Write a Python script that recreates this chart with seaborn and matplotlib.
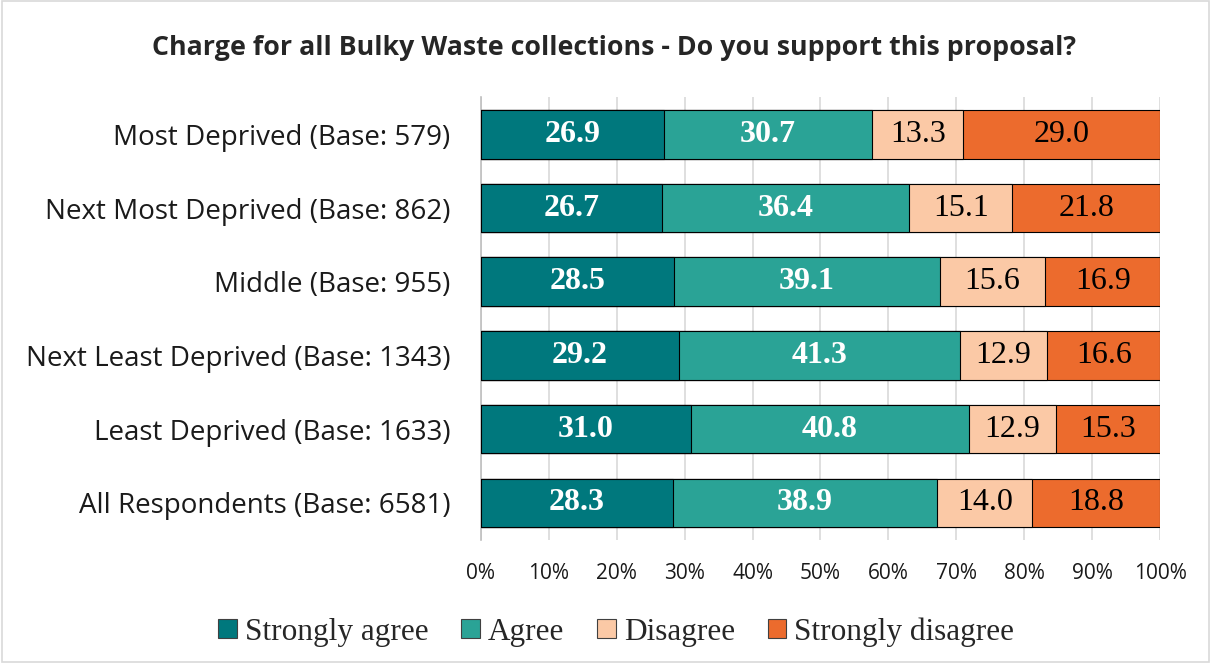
import matplotlib
matplotlib.use("Agg")
import matplotlib.pyplot as plt
import seaborn as sns
import pandas as pd
import numpy as np
from matplotlib.patches import Rectangle, Patch

categories = ["Most Deprived (Base: 579)", "Next Most Deprived (Base: 862)", "Middle (Base: 955)",
              "Next Least Deprived (Base: 1343)", "Least Deprived (Base: 1633)", "All Respondents (Base: 6581)"]
strongly_agree = [26.9, 26.7, 28.5, 29.2, 31.0, 28.3]
agree = [30.7, 36.4, 39.1, 41.3, 40.8, 38.9]
disagree = [13.3, 15.1, 15.6, 12.9, 12.9, 14.0]
strongly_disagree = [29.0, 21.8, 16.9, 16.6, 15.3, 18.8]
series_names = ["Strongly agree", "Agree", "Disagree", "Strongly disagree"]
colors = ["#00787D", "#2AA396", "#FBC9A6", "#EC6B2D"]
label_colors = ["white", "white", "black", "black"]
label_weights = ["bold", "bold", "normal", "normal"]

sns.set_theme(style="white")
plt.rcParams["font.family"] = ["Open Sans", "DejaVu Sans"]

series = [strongly_agree, agree, disagree, strongly_disagree]
vals = np.array(series)
cum = np.cumsum(vals, axis=0)
totals = cum[-1]
cum_pct = cum / totals * 100
starts = np.vstack([np.zeros(len(categories)), cum_pct[:-1]])

fig = plt.figure(figsize=(12.11, 6.63), dpi=100)
ax = fig.add_axes([0.397, 0.186, 0.561, 0.667])

for i in reversed(range(len(series))):
    df = pd.DataFrame({"cat": categories, "val": cum_pct[i]})
    sns.barplot(data=df, x="val", y="cat", orient="h", color=colors[i], ax=ax,
                width=0.66, edgecolor="black", linewidth=0.8, saturation=1, zorder=3)

for i in range(len(series)):
    for j in range(len(categories)):
        mid = starts[i][j] + (cum_pct[i][j] - starts[i][j]) / 2
        ax.text(mid, j, f"{series[i][j]:.1f}", ha="center", va="center",
                color=label_colors[i], fontweight=label_weights[i],
                fontsize=23, family="Liberation Serif", zorder=5)

ax.set_xlim(0, 100)
ax.set_ylim(5.5, -0.5)
ax.set_xticks(np.arange(0, 101, 10))
ax.set_xticklabels([f"{t}%" for t in range(0, 101, 10)], fontsize=15)
ax.tick_params(axis="y", labelsize=20, length=0, pad=22, labelcolor="#1a1a1a")
ax.tick_params(axis="x", length=0, pad=17, labelcolor="#1a1a1a")
ax.set_xlabel("")
ax.set_ylabel("")
ax.grid(axis="x", color="#D9D9D9", linewidth=1.2, zorder=0)
ax.set_axisbelow(True)
for s in ["top", "right", "bottom"]:
    ax.spines[s].set_visible(False)
ax.spines["left"].set_color("#BFBFBF")
ax.spines["left"].set_linewidth(1.2)

fig.suptitle("Charge for all Bulky Waste collections - Do you support this proposal?",
             x=0.507, y=0.947, fontsize=19.3, fontweight="bold")

handles = [Patch(facecolor=c, edgecolor="#404040", linewidth=0.8) for c in colors]
fig.legend(handles, series_names, loc="center", bbox_to_anchor=(0.509, 0.047), ncol=4,
           frameon=False, prop={"family": "Liberation Serif", "size": 22.5},
           handlelength=0.6, handleheight=0.6, handletextpad=0.25, columnspacing=1.05)

fig.patches.append(Rectangle((0.002, 0.002), 0.996, 0.996, transform=fig.transFigure,
                             fill=False, edgecolor="#D9D9D9", linewidth=1.2))

fig.savefig("out.png", dpi=100)
